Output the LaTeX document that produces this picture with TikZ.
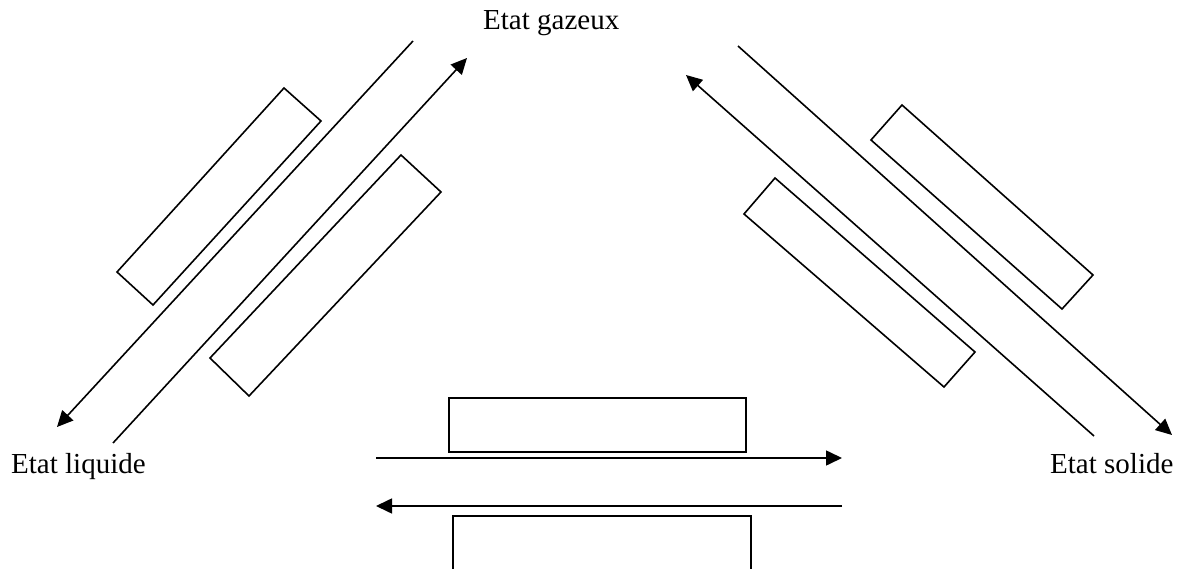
\documentclass[tikz,border=0pt]{standalone}
\usepackage{fontspec}
\setmainfont{Liberation Serif}
\usetikzlibrary{arrows.meta}
\begin{document}
\begin{tikzpicture}[x=1pt,y=-1pt,
  ln/.style={line width=1.6pt},
  arr/.style={ln,-{Triangle[length=16pt,width=15pt]}},
  box/.style={line width=1.6pt},
  lbl/.style={anchor=base west,inner sep=0pt,font=\fontsize{29}{35}\selectfont}]
\useasboundingbox (0,0) rectangle (1181,569);
% labels
\node[lbl] (gaz) at (483,30) {Etat gazeux};
\node[lbl] (liq) at (11,473) {Etat liquide};
\node[lbl] (sol) at (1050,473) {Etat solide};
% endpoints
\coordinate (l1a) at (413,41);  \coordinate (l1b) at (57,427);
\coordinate (l2a) at (113,443); \coordinate (l2b) at (467,58);
\coordinate (r1a) at (738,46);  \coordinate (r1b) at (1172,435);
\coordinate (r2a) at (1094,436); \coordinate (r2b) at (686,75);
\coordinate (b1a) at (376,458); \coordinate (b1b) at (842,458);
\coordinate (b2a) at (842,506); \coordinate (b2b) at (376,506);
% left side
\draw[arr] (l1a) -- (l1b);
\draw[arr] (l2a) -- (l2b);
\draw[box] (284,88) -- (321,121) -- (153,305) -- (117,272) -- cycle;
\draw[box] (401,155) -- (441,192) -- (249,396) -- (210,358) -- cycle;
% right side
\draw[arr] (r1a) -- (r1b);
\draw[arr] (r2a) -- (r2b);
\draw[box] (902,105) -- (1093,275) -- (1062,309) -- (871,140) -- cycle;
\draw[box] (775,178) -- (975,352) -- (944,387) -- (744,214) -- cycle;
% bottom
\draw[arr] (b1a) -- (b1b);
\draw[arr] (b2a) -- (b2b);
\draw[box] (449,398) rectangle (746,452);
\draw[box] (453,580) |- (751,516) -- (751,580);
\end{tikzpicture}
\end{document}
